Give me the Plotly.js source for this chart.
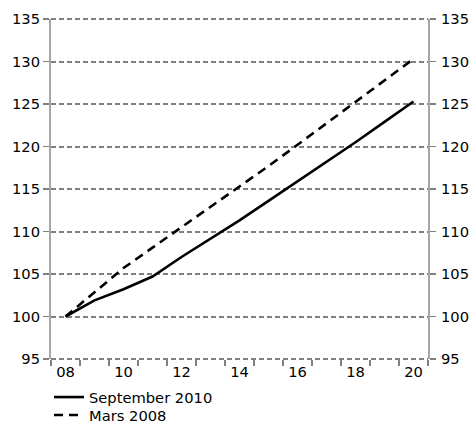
<!DOCTYPE html>
<html>
<head>
<meta charset="utf-8">
<script src="https://cdn.plot.ly/plotly-3.0.1.min.js"></script>
<style>
html,body{margin:0;padding:0;background:#fff;}
#chart{width:470px;height:424px;}
</style>
</head>
<body>
<div id="chart"></div>
<script>
const years = [2008, 2009, 2010, 2011, 2012, 2013, 2014, 2015, 2016, 2017, 2018, 2019, 2020];
const september2010 = [100, 101.9, 103.2, 104.7, 107.0, 109.1, 111.3, 113.6, 115.9, 118.1, 120.5, 122.9, 125.3];
const mars2008 = [100, 102.9, 105.7, 108.1, 110.5, 112.9, 115.2, 117.7, 120.2, 122.7, 125.2, 127.7, 130.3];
const xTickVals = [2008, 2010, 2012, 2014, 2016, 2018, 2020];
const xTickText = ['08', '10', '12', '14', '16', '18', '20'];
const seriesNames = ['September 2010', 'Mars 2008'];
const yRange = [95, 135];

const FONT = {family: 'Verdana, "DejaVu Sans", sans-serif', size: 14.7, color: '#000'};
const GRID = '#808080';
const GRIDDASH = '5px,3px';

const traces = [
  {x: years, y: september2010, name: seriesNames[0], type: 'scatter', mode: 'lines',
   line: {color: '#000', width: 2.6}, legend: 'legend', hoverinfo: 'skip'},
  {x: years, y: mars2008, name: seriesNames[1], type: 'scatter', mode: 'lines', yaxis: 'y2',
   line: {color: '#000', width: 2.6, dash: '9px,6px'}, legend: 'legend2', hoverinfo: 'skip'}
];

const yCommon = {
  range: yRange, tickmode: 'linear', tick0: yRange[0], dtick: 5,
  ticks: 'outside', ticklen: 6, tickwidth: 1.5, tickcolor: GRID,
  showline: true, linecolor: '#a6a6a6', linewidth: 2,
  zeroline: false, tickfont: FONT, fixedrange: true
};

// edge gridlines at the bottom and top of the y range (plotly omits grid lines on the range ends)
const edgeGrid = [0, 1].map(p => ({
  type: 'line', xref: 'paper', x0: 0, x1: 1, yref: 'paper', y0: p, y1: p,
  line: {color: GRID, width: 2, dash: GRIDDASH}, layer: 'below'
}));

const layout = {
  width: 470, height: 424,
  margin: {l: 51, r: 42, t: 19, b: 65, autoexpand: false},
  paper_bgcolor: '#fff', plot_bgcolor: 'rgba(0,0,0,0)',
  font: FONT,
  showlegend: true,
  shapes: edgeGrid,
  xaxis: {
    range: [2007.5, 2020.5], tickmode: 'array', tickvals: xTickVals, ticktext: xTickText,
    ticks: '', showgrid: false, zeroline: false, showline: false, tickfont: FONT,
    ticklabelstandoff: 2,
    minor: {tickmode: 'linear', tick0: 2007.5, dtick: 1, ticks: 'outside', ticklen: 6,
            tickwidth: 1.5, tickcolor: GRID, showgrid: false},
    fixedrange: true
  },
  yaxis: Object.assign({}, yCommon, {
    side: 'left', showgrid: true, gridcolor: GRID, gridwidth: 2, griddash: GRIDDASH
  }),
  yaxis2: Object.assign({}, yCommon, {
    side: 'right', overlaying: 'y', anchor: 'x', matches: 'y', showgrid: false,
    ticklabelstandoff: 2
  }),
  legend: {x: -2 / 377, xanchor: 'left', y: (359 - 381) / 340, yanchor: 'top',
           bgcolor: 'rgba(0,0,0,0)', font: FONT, borderwidth: 0},
  legend2: {x: -2 / 377, xanchor: 'left', y: (359 - 399) / 340, yanchor: 'top',
            bgcolor: 'rgba(0,0,0,0)', font: FONT, borderwidth: 0}
};

Plotly.newPlot('chart', traces, layout, {staticPlot: true, displayModeBar: false});
</script>
</body>
</html>
